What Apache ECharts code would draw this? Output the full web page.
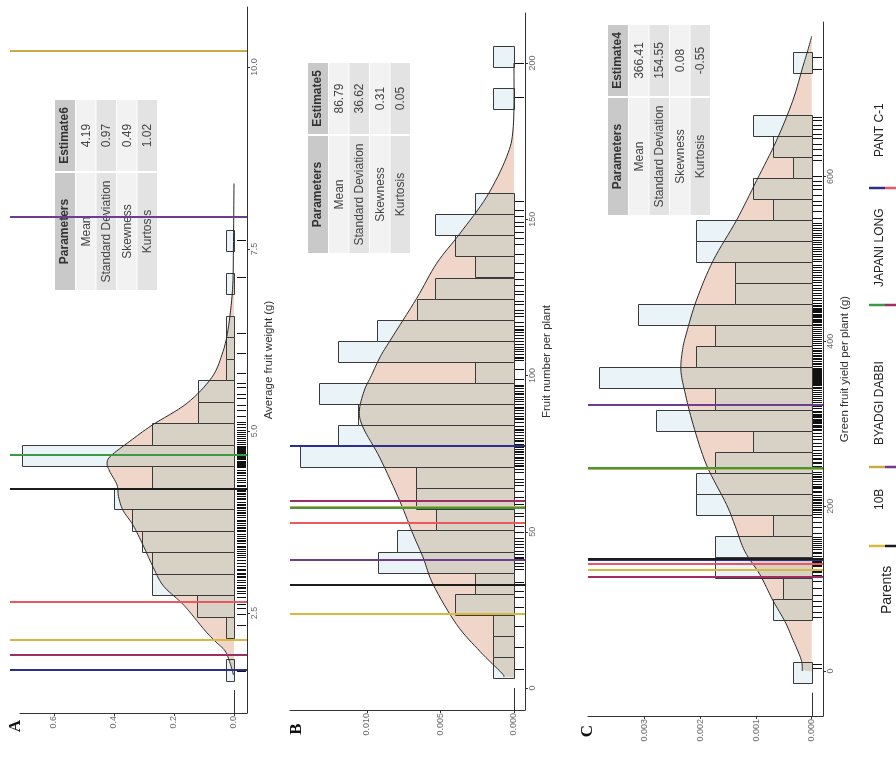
<!DOCTYPE html>
<html><head><meta charset="utf-8">
<script src="https://cdn.jsdelivr.net/npm/echarts@6/dist/echarts.min.js"></script>
<style>html,body{margin:0;padding:0;background:#fff}#c{width:896px;height:757px}</style>
</head><body><div id="c"></div>
<script>
// ===================== DATA =====================
// Panel A : Average fruit weight (g)
const binWidthA = 0.295;
const binStartA = [1.566,1.861,2.156,2.451,2.746,3.041,3.336,3.631,3.926,4.221,4.516,4.811,5.106,5.401,5.696,5.991,6.286,6.581,6.876,7.171,7.466];
const binDensA  = [0.028,0,0.028,0.123,0.273,0.273,0.307,0.34,0.40,0.273,0.707,0.273,0.12,0.12,0.028,0.028,0.028,0,0.028,0,0.028];
const curveValA = [1.65,1.81,1.98,2.10,2.25,2.40,2.55,2.66,2.88,3.16,3.43,3.71,3.91,4.10,4.26,4.45,4.56,4.66,4.86,5.08,5.38,5.73,6.05,6.39,6.94,7.5,8.4];
const curveDenA = [0.002,0.013,0.03,0.06,0.095,0.125,0.155,0.18,0.237,0.273,0.303,0.337,0.37,0.385,0.39,0.415,0.423,0.41,0.347,0.273,0.157,0.075,0.04,0.02,0.005,0.002,0];
const rugA = [1.70,2.33,2.49,2.57,2.63,2.72,2.77,2.80,2.84,2.86,2.89,2.93,2.95,2.99,3.01,3.04,3.05,3.09,3.11,3.15,3.18,3.19,3.23,3.27,3.30,3.33,
  3.35,3.38,3.40,3.42,3.46,3.49,3.50,3.53,3.56,3.59,3.62,3.64,3.67,3.68,3.71,3.74,3.76,3.78,3.82,3.84,3.87,3.89,3.92,
  3.94,3.95,3.98,4.00,4.02,4.03,4.06,4.08,4.10,4.13,4.15,4.17,4.19,4.21,4.24,4.26,4.30,4.33,4.35,4.39,4.42,4.44,4.47,4.50,
  4.52,4.53,4.54,4.56,4.57,4.58,4.59,4.61,4.62,4.63,4.64,4.66,4.67,4.68,4.69,4.70,4.71,4.73,4.74,4.75,4.76,4.77,4.78,4.79,4.80,
  4.82,4.85,4.88,4.90,4.93,4.96,4.99,5.02,5.05,5.09,5.13,5.20,5.29,5.36,5.45,5.51,5.60,5.66,5.80,6.07,6.35,7.11,7.62];
const zeroSegA = [1.126, 1.44];
const densTicksA = [0, 0.2, 0.4, 0.6];
const valTicksA  = [2.5, 5, 7.5, 10];

// Panel B : Fruit number per plant
const binWidthB = 6.745;
const binStartB = [3.2,9.95,16.69,23.44,30.18,36.93,43.67,50.42,57.16,63.91,70.65,77.4,84.14,90.89,97.63,104.38,111.12,117.87,124.61,131.36,138.1,144.85,151.59,158.34,165.08,171.83,178.57,185.32,192.06,198.81];
const binDensB  = [0.00143,0.00143,0.00143,0.004,0.00265,0.00927,0.00798,0.00533,0.00667,0.00667,0.01456,0.01195,0.01059,0.01324,0.00265,0.01195,0.00934,0.00662,0.00537,0.00265,0.004,0.00537,0.00265,0,0,0,0,0.00143,0,0.00143];
const curveValB = [3.5,4.8,11.7,20.3,33,41.6,49,59.7,73.6,83.2,88.5,95,100,106,111.4,124.7,135.9,145.5,157.2,170,179.6,200];
const curveDenB = [0.0007,0.00084,0.00231,0.0039,0.00549,0.00617,0.00685,0.00776,0.00912,0.01025,0.01052,0.0102,0.0097,0.0091,0.0084,0.00662,0.00526,0.00367,0.00186,0.0005,0.00005,0];
const rugB = [6,13,20,24,26,29,31,34,38,39,40,41,41.5,42,43,44,45,46,47,48,50,52,53,55,56,58,59,60,61,63,65,66,67,69,70,
  71,71.5,72,73,73.5,74,75,75.5,76,76.5,77,78,79,79.5,80,81,82,82.5,83,84,85,86,86.5,87,88,89,89.5,90,
  91,92,92.5,93,94,94.5,95,96,96.5,97,99,102,105,105.5,106,107,108,108.5,109,110,111,112,113,114,114.5,115,116,117,
  119,120,121,123,124,126,127,129,131,133,136,139,142,144,146,148,149,151,153,156,189,200];
const zeroSegB = [-7.04, 0];
const densTicksB = [0, 0.005, 0.01];
const valTicksB  = [0, 50, 100, 150, 200];

// Panel C : Green fruit yield per plant (g)
const binWidthC = 25.5;
const binStartC = [-14.2,11.3,36.8,62.3,87.8,113.3,138.8,164.3,189.8,215.3,240.8,266.3,291.8,317.3,342.8,368.3,393.8,419.3,444.8,470.3,495.8,521.3,546.8,572.3,597.8,623.3,648.8,674.3,699.8,725.3];
const binDensC  = [0.00034,0,0,0.000695,0.000515,0.00174,0.00174,0.000695,0.00207,0.00207,0.00174,0.00105,0.00279,0.00174,0.00382,0.00207,0.00174,0.00312,0.00138,0.00138,0.00207,0.00207,0.000695,0.00105,0.00034,0.000695,0.00105,0,0,0.00034];
const curveValC = [0,14,40,60,86,117,145,175,202,250,299,339,365,390,410,450,498,547,595,644,692,733,753,770];
const curveDenC = [0.00017,0.00019,0.00035,0.00048,0.0007,0.00093,0.0012,0.00137,0.00153,0.00189,0.00213,0.00228,0.00235,0.00232,0.00225,0.00207,0.00177,0.00135,0.00099,0.00063,0.00034,0.00016,0.00007,0];
const rugC = [4,8,66,72,79,85,92,101,109,115,117,120,122,124,127,129,132,134,137,140,143,145,148,150,153,155,158,160,163,168,175,181,187,
  191,193,196,197,199,201,204,205,207,209,211,214,217,219,222,223,225,227,230,231,233,235,237,239,242,245,247,249,252,254,257,259,262,265,
  268,273,277,281,285,289,293,294,296,297,299,301,302,303,305,306,308,309,311,312,314,316,319,321,324,326,329,331,334,336,339,341,
  343.5,345,347,348,349,350.5,352,353,354,355.5,357,358,359,360.5,362,363,364,365,366,367,368,370,372,374,376,378,380,382,384,386,388,390,392,
  395,398,400,403,405,408,410,413,415,418,420,421.5,423,424.5,426,427.5,429,430.5,432,433.5,435,436.5,438,439.5,441,443,444,
  447,450,453,456,459,462,465,468,472,475,478,481,484,487,490,493,497,500,503,506,509,512,515,518,520,523,526,529,532,535,538,541,544,
  550,558,565,570,577,585,590,595,601,620,626,633,640,647,652,658,663,668,672,730,745];
const zeroSegC = [-54.5, -26.3];
const densTicksC = [0, 0.001, 0.002, 0.003];
const valTicksC  = [0, 200, 400, 600];

// Parents (row 1 then row 2 of the legend)
const parentNames  = ['10B','BYADGI DABBI','JAPANI LONG','PANT C-1','','','',''];
const parentColors = ['#d8b83e','#c9ad44','#3d9a44','#2c2f8c','#1c1c1c','#6d3d91','#9e2e64','#eb5860'];
const parentA = [2.13, 10.22, 4.67, 1.72, 4.20, 7.94, 1.92, 2.65];
const parentB = [23.7, 57.8, 57.5, 77.5, 32.9, 40.9, 59.7, 52.8];
const parentC = [122.4, 245.0, 245.8, 134.5, 136.0, 323.0, 114.0, 130.0];

// Summary tables
const tableParams = ['Mean','Standard Deviation','Skewness','Kurtosis'];
const tableHeadA = 'Estimate6', tableValsA = ['4.19','0.97','0.49','1.02'];
const tableHeadB = 'Estimate5', tableValsB = ['86.79','36.62','0.31','0.05'];
const tableHeadC = 'Estimate4', tableValsC = ['366.41','154.55','0.08','-0.55'];

const axisNames = ['Average fruit weight (g)','Fruit number per plant','Green fruit yield per plant (g)'];

// ===================== STYLE / LAYOUT =====================
const FONT = '"Liberation Sans", Arial, Helvetica, sans-serif';
const BAR_FILL = '#eaf4f8', BAR_STROKE = '#3a3a3a', AREA_FILL = '#efd6c9', OVERLAP_FILL = '#d7d1c6';

const panels = [
  {grid:{left:20,right:649,top:7,bottom:44}, xMin:-0.0433, xMax:0.7133, yMin:1.126, yMax:10.824,
   bw:binWidthA, bs:binStartA, bd:binDensA, cv:curveValA, cd:curveDenA, rug:rugA, zero:zeroSegA,
   dt:densTicksA, vt:valTicksA, df:v=>v.toFixed(1), vf:v=>v.toFixed(1), par:parentA, ext:10},
  {grid:{left:290,right:371,top:13,bottom:47}, xMin:-0.000748, xMax:0.015238, yMin:-7.04, yMax:216,
   bw:binWidthB, bs:binStartB, bd:binDensB, cv:curveValB, cd:curveDenB, rug:rugB, zero:zeroSegB,
   dt:densTicksB, vt:valTicksB, df:v=>v.toFixed(3), vf:v=>String(v), par:parentB, ext:0},
  {grid:{left:588,right:73,top:22,bottom:41}, xMin:-0.000203, xMax:0.004019, yMin:-54.5, yMax:787.4,
   bw:binWidthC, bs:binStartC, bd:binDensC, cv:curveValC, cd:curveDenC, rug:rugC, zero:zeroSegC,
   dt:densTicksC, vt:valTicksC, df:v=>v.toFixed(3), vf:v=>String(v), par:parentC, ext:0}
];

// smooth drawing of the density curve through the library's coordinates
function spline(pts, seg){
  const out=[];
  for(let i=0;i<pts.length-1;i++){
    const p0=pts[Math.max(0,i-1)],p1=pts[i],p2=pts[i+1],p3=pts[Math.min(pts.length-1,i+2)];
    for(let t=0;t<seg;t++){
      const u=t/seg,u2=u*u,u3=u2*u;
      const f=k=>0.5*(2*p1[k]+(-p0[k]+p2[k])*u+(2*p0[k]-5*p1[k]+4*p2[k]-p3[k])*u2+(-p0[k]+3*p1[k]-3*p2[k]+p3[k])*u3);
      out.push([f(0),f(1)]);
    }
  }
  out.push(pts[pts.length-1]);
  return out;
}
function curveScreen(api,p){ return spline(p.cv.map((v,i)=>api.coord([p.cd[i],v])),8); }
function curveXAt(sm,y,x0){
  if(y>sm[0][1]||y<sm[sm.length-1][1]) return x0;
  for(let i=0;i<sm.length-1;i++){
    const a=sm[i],b=sm[i+1];
    if(y<=a[1]&&y>=b[1]){ const t=(a[1]===b[1])?0:(a[1]-y)/(a[1]-b[1]); return a[0]+(b[0]-a[0])*t; }
  }
  return x0;
}

const grids=[], xAxes=[], yAxes=[], series=[];
panels.forEach((p,gi)=>{
  grids.push(Object.assign({containLabel:false}, p.grid));
  xAxes.push({gridIndex:gi,type:'value',inverse:true,min:p.xMin,max:p.xMax,position:'bottom',
    axisLine:{show:true,onZero:false,lineStyle:{color:'#333',width:1}},
    axisTick:{show:true,customValues:p.dt,length:3,lineStyle:{color:'#333'}},
    axisLabel:{show:true,customValues:p.dt,rotate:90,fontSize:9,color:'#6a6a6a',margin:3,fontFamily:FONT,formatter:v=>p.df(v)},
    splitLine:{show:false}});
  yAxes.push({gridIndex:gi,type:'value',min:p.yMin,max:p.yMax,position:'right',
    axisLine:{show:true,onZero:false,lineStyle:{color:'#333',width:1}},
    axisTick:{show:true,customValues:p.vt,length:3,lineStyle:{color:'#333'}},
    axisLabel:{show:true,customValues:p.vt,rotate:90,fontSize:9,color:'#6a6a6a',margin:3,fontFamily:FONT,formatter:v=>p.vf(v)},
    splitLine:{show:false},
    name:axisNames[gi],nameLocation:'middle',nameRotate:90,nameGap:16,
    nameTextStyle:{fontSize:11.5,color:'#333',fontFamily:FONT}});
  // density area (pink)
  series.push({type:'custom',xAxisIndex:gi,yAxisIndex:gi,z:2,silent:true,clip:false,
    data:[[0,p.cv[0]]],
    renderItem:(params,api)=>{
      const sm=curveScreen(api,p);
      const poly=[api.coord([0,p.cv[0]])].concat(sm,[api.coord([0,p.cv[p.cv.length-1]])]);
      return {type:'polygon',shape:{points:poly},style:{fill:AREA_FILL}};
    }});
  // histogram bars, with the part under the density curve shaded
  series.push({type:'custom',xAxisIndex:gi,yAxisIndex:gi,z:3,silent:true,clip:false,
    data:p.bs.map((s,i)=>[p.bd[i],s]),
    renderItem:(params,api)=>{
      const d=api.value(0), s=api.value(1);
      if(!d) return null;
      const a=api.coord([0,s]), b=api.coord([d,s+p.bw]);
      const x0=Math.round(b[0])+0.5, x1=Math.round(a[0])+0.5, y0=Math.round(b[1])+0.5, y1=Math.round(a[1])+0.5;
      const sm=curveScreen(api,p);
      const poly=[[x1,y1]];
      const n=Math.max(2,Math.ceil(y1-y0));
      for(let k=0;k<=n;k++){const y=y1-(y1-y0)*k/n; poly.push([Math.max(x0,curveXAt(sm,y,x1)),y]);}
      poly.push([x1,y0]);
      return {type:'group',children:[
        {type:'rect',shape:{x:x0,y:y0,width:x1-x0,height:y1-y0},style:{fill:BAR_FILL}},
        {type:'polygon',shape:{points:poly},style:{fill:OVERLAP_FILL}},
        {type:'rect',shape:{x:x0,y:y0,width:x1-x0,height:y1-y0},style:{fill:null,stroke:BAR_STROKE,lineWidth:1}}
      ]};
    }});
  // density curve line
  series.push({type:'custom',xAxisIndex:gi,yAxisIndex:gi,z:4,silent:true,clip:false,
    data:[[0,p.cv[0]]],
    renderItem:(params,api)=>({type:'polyline',shape:{points:curveScreen(api,p)},style:{stroke:'#2a2a2a',lineWidth:1,fill:null}})});
  // rug
  series.push({type:'custom',xAxisIndex:gi,yAxisIndex:gi,z:4,silent:true,clip:false,
    data:p.rug.map(v=>[0,v]),
    renderItem:(params,api)=>{
      const cs=params.coordSys; const y=Math.round(api.coord([0,api.value(1)])[1])+0.5;
      return {type:'line',shape:{x1:cs.x+cs.width-10,y1:y,x2:cs.x+cs.width-1,y2:y},style:{stroke:'#111',lineWidth:1}};
    }});
  // zero segment
  series.push({type:'custom',xAxisIndex:gi,yAxisIndex:gi,z:4,silent:true,clip:false,
    data:[[0,p.zero[0],p.zero[1]]],
    renderItem:(params,api)=>{
      const a=api.coord([0,api.value(1)]), b=api.coord([0,api.value(2)]);
      const x=Math.round(a[0])+0.5;
      return {type:'line',shape:{x1:x,y1:a[1],x2:x,y2:b[1]},style:{stroke:'#333',lineWidth:1}};
    }});
  // parent reference lines
  series.push({type:'custom',xAxisIndex:gi,yAxisIndex:gi,z:5,silent:true,clip:false,
    data:p.par.map((v,i)=>[0,v,i]),
    renderItem:(params,api)=>{
      const cs=params.coordSys; const y=Math.round(api.coord([0,api.value(1)])[1]);
      return {type:'line',shape:{x1:cs.x-p.ext,y1:y,x2:cs.x+cs.width,y2:y},style:{stroke:parentColors[api.value(2)],lineWidth:2}};
    }});
});

function table(x0,y0,head,vals){
  const W=190,c1=117,g=2,hh=20,rh=20.5;
  const ch=[];
  ch.push({type:'rect',shape:{x:0,y:0,width:c1,height:hh},style:{fill:'#c9c9c9'}});
  ch.push({type:'rect',shape:{x:c1+g,y:0,width:W-c1-g,height:hh},style:{fill:'#c9c9c9'}});
  ch.push({type:'text',x:c1/2,y:hh/2,style:{text:'Parameters',fill:'#333',font:'bold 12px '+FONT,textAlign:'center',textVerticalAlign:'middle'}});
  ch.push({type:'text',x:c1+g+(W-c1-g)/2,y:hh/2,style:{text:head,fill:'#333',font:'bold 12px '+FONT,textAlign:'center',textVerticalAlign:'middle'}});
  tableParams.forEach((t,i)=>{
    const y=hh+1+i*rh, fill=i%2===0?'#f2f2f2':'#e3e3e3';
    ch.push({type:'rect',shape:{x:0,y:y,width:c1,height:rh-1},style:{fill}});
    ch.push({type:'rect',shape:{x:c1+g,y:y,width:W-c1-g,height:rh-1},style:{fill}});
    ch.push({type:'text',x:c1/2,y:y+rh/2,style:{text:t,fill:'#444',font:'12px '+FONT,textAlign:'center',textVerticalAlign:'middle'}});
    ch.push({type:'text',x:c1+g+(W-c1-g)/2,y:y+rh/2,style:{text:vals[i],fill:'#444',font:'12px '+FONT,textAlign:'center',textVerticalAlign:'middle'}});
  });
  return {type:'group',x:x0,y:y0,rotation:Math.PI/2,z:100,children:ch};
}
function rtext(x,y,text,font,align,fill){
  return {type:'text',x,y,rotation:Math.PI/2,z:100,style:{text,font,fill:fill||'#222',textAlign:align||'left',textVerticalAlign:'middle'}};
}

const graphics=[
  table(55,290,tableHeadA,tableValsA),
  table(308,253,tableHeadB,tableValsB),
  table(608,215,tableHeadC,tableValsC),
  rtext(16,726,'A','bold 17px "Liberation Serif", "Times New Roman", serif','center','#111'),
  rtext(297,729,'B','bold 17px "Liberation Serif", "Times New Roman", serif','center','#111'),
  rtext(588,731,'C','bold 17px "Liberation Serif", "Times New Roman", serif','center','#111'),
  rtext(887,614,'Parents','14px '+FONT,'left','#222')
];
const keyY=[546,467,305,188];
const labelY=[510,445,287,157];
for(let j=0;j<4;j++){
  graphics.push({type:'line',z:100,shape:{x1:869,y1:keyY[j],x2:885,y2:keyY[j]},style:{stroke:parentColors[j],lineWidth:2.5}});
  graphics.push({type:'line',z:100,shape:{x1:885,y1:keyY[j],x2:901,y2:keyY[j]},style:{stroke:parentColors[j+4],lineWidth:2.5}});
  graphics.push(rtext(880,labelY[j],parentNames[j],'12px '+FONT,'left','#222'));
  if(parentNames[j+4]) graphics.push(rtext(898,labelY[j],parentNames[j+4],'12px '+FONT,'left','#222'));
}

const chart=echarts.init(document.getElementById('c'),null,{renderer:'canvas'});
chart.setOption({animation:false,backgroundColor:'#fff',textStyle:{fontFamily:FONT},
  grid:grids,xAxis:xAxes,yAxis:yAxes,series,graphic:graphics});
</script></body></html>
